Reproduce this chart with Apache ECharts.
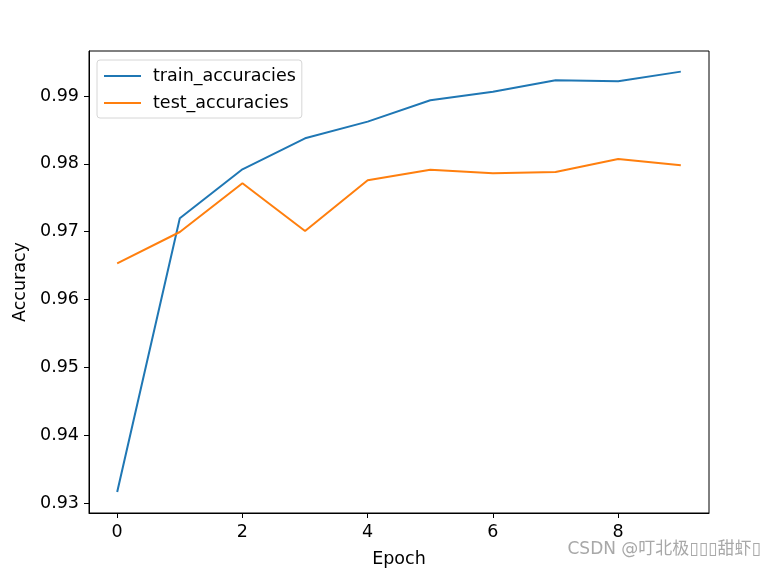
<!DOCTYPE html>
<html>
<head>
<meta charset="utf-8">
<script src="https://cdn.jsdelivr.net/npm/echarts@6/dist/echarts.min.js"></script>
<style>
html,body{margin:0;padding:0;background:#fff;}
#chart{width:768px;height:571px;}
</style>
</head>
<body>
<div id="chart"></div>
<script>
const epochs = [0, 1, 2, 3, 4, 5, 6, 7, 8, 9];
const trainAcc = [0.93162, 0.97197, 0.97919, 0.98376, 0.98622, 0.98936, 0.99063, 0.99231, 0.99216, 0.99359];
const testAcc = [0.96534, 0.96995, 0.97713, 0.97010, 0.97757, 0.97914, 0.97861, 0.97880, 0.98072, 0.97979];
const xTicks = [0, 2, 4, 6, 8];
const yTicks = [0.93, 0.94, 0.95, 0.96, 0.97, 0.98, 0.99];
const seriesNames = ['train_accuracies', 'test_accuracies'];

const font = 'DejaVu Sans';
const fs = 17.5;
const chart = echarts.init(document.getElementById('chart'), null, {renderer: 'canvas'});
chart.setOption({
  animation: false,
  backgroundColor: '#fff',
  grid: {left: 89, top: 51, width: 620, height: 462, outerBoundsMode: 'none', containLabel: false, show: true, borderColor: '#000', borderWidth: 1, backgroundColor: 'transparent'},
  legend: {
    orient: 'vertical', left: 97, top: 60,
    padding: [7, 6, 6, 7], itemGap: 9,
    itemWidth: 37, itemHeight: 2, icon: 'rect',
    backgroundColor: '#fff', borderColor: '#d6d6d6', borderWidth: 1, borderRadius: 3,
    selectedMode: false,
    textStyle: {fontFamily: font, fontSize: fs, color: '#000', padding: [0, 0, 0, 7]},
    data: seriesNames
  },
  xAxis: {
    type: 'value', min: -0.45, max: 9.45,
    name: 'Epoch', nameLocation: 'middle', nameGap: 37,
    nameTextStyle: {fontFamily: font, fontSize: fs, color: '#000'},
    axisLine: {show: true, onZero: false, lineStyle: {color: '#000', width: 1}},
    axisTick: {show: true, length: 5, lineStyle: {color: '#000'}, customValues: xTicks},
    axisLabel: {fontFamily: font, fontSize: fs, color: '#000', margin: 10, customValues: xTicks, formatter: v => String(v)},
    splitLine: {show: false}
  },
  yAxis: {
    type: 'value', min: 0.92853, max: 0.99663,
    name: 'Accuracy', nameLocation: 'middle', nameGap: 60, nameRotate: 90,
    nameTextStyle: {fontFamily: font, fontSize: fs, color: '#000'},
    axisLine: {show: true, onZero: false, lineStyle: {color: '#000', width: 1}},
    axisTick: {show: true, length: 5, lineStyle: {color: '#000'}, customValues: yTicks},
    axisLabel: {fontFamily: font, fontSize: fs, color: '#000', margin: 10, customValues: yTicks, formatter: v => v.toFixed(2)},
    splitLine: {show: false}
  },
  graphic: [{
    type: 'text', left: 567, top: 541,
    style: {text: 'CSDN @叮北极▯▯▯甜虾▯', fontFamily: 'DejaVu Sans, Noto Sans CJK SC', fontSize: 17, fill: '#a8a8a8', stroke: '#fff', lineWidth: 1}
  }],
  series: [
    {name: seriesNames[0], type: 'line', data: epochs.map((e, i) => [e, trainAcc[i]]), showSymbol: false, symbol: 'none', lineStyle: {color: '#1f77b4', width: 2}, itemStyle: {color: '#1f77b4'}},
    {name: seriesNames[1], type: 'line', data: epochs.map((e, i) => [e, testAcc[i]]), showSymbol: false, symbol: 'none', lineStyle: {color: '#ff7f0e', width: 2}, itemStyle: {color: '#ff7f0e'}}
  ]
});
</script>
</body>
</html>
